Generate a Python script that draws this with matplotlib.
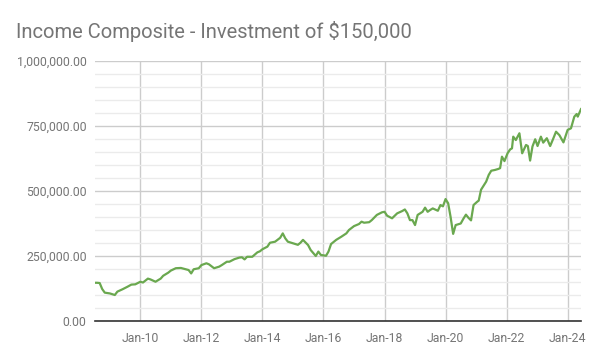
import matplotlib
matplotlib.use('Agg')
import numpy as np
import pandas as pd
import matplotlib.dates as mdates
from matplotlib import pyplot as plt
from matplotlib.ticker import MultipleLocator, FuncFormatter

dates = ['2008-07-07', '2008-08-01', '2008-09-01', '2008-10-01', '2008-11-01', '2009-01-01',
         '2009-03-01', '2009-04-01', '2009-06-01', '2009-08-01', '2009-09-15', '2009-11-01',
         '2010-01-01', '2010-02-01', '2010-04-01', '2010-05-01', '2010-07-01', '2010-09-01',
         '2010-10-01', '2010-12-01', '2011-01-01', '2011-03-01', '2011-05-01', '2011-08-01',
         '2011-09-01', '2011-10-01', '2011-12-01', '2012-01-01', '2012-03-01', '2012-04-01',
         '2012-06-01', '2012-08-01', '2012-09-01', '2012-11-01', '2012-12-01', '2013-02-01',
         '2013-04-01', '2013-05-01', '2013-06-01', '2013-07-01', '2013-09-01', '2013-11-01',
         '2013-12-01', '2014-01-01', '2014-03-01', '2014-04-01', '2014-06-01', '2014-08-01',
         '2014-09-01', '2014-10-01', '2014-11-01', '2015-01-01', '2015-03-01', '2015-04-01',
         '2015-05-01', '2015-07-01', '2015-08-01', '2015-10-01', '2015-11-01', '2015-12-01',
         '2016-02-01', '2016-03-01', '2016-04-01', '2016-06-01', '2016-08-01', '2016-10-01',
         '2016-11-01', '2017-01-01', '2017-03-01', '2017-04-01', '2017-05-01', '2017-07-01',
         '2017-08-01', '2017-10-01', '2017-12-01', '2018-01-01', '2018-02-01', '2018-04-01',
         '2018-06-01', '2018-08-01', '2018-09-01', '2018-10-01', '2018-11-01', '2018-12-01',
         '2019-01-01', '2019-02-01', '2019-04-01', '2019-05-01', '2019-06-01', '2019-07-01',
         '2019-08-01', '2019-10-01', '2019-11-01', '2019-12-01', '2020-01-01', '2020-02-01',
         '2020-03-01', '2020-04-01', '2020-05-01', '2020-07-01', '2020-08-01', '2020-09-01',
         '2020-10-01', '2020-11-01', '2020-12-01', '2021-01-15', '2021-02-01', '2021-03-01',
         '2021-05-01', '2021-06-01', '2021-07-01', '2021-08-15', '2021-09-25', '2021-10-15',
         '2021-11-06', '2021-12-06', '2022-01-12', '2022-02-12', '2022-03-06', '2022-03-21',
         '2022-04-21', '2022-06-03', '2022-07-06', '2022-08-21', '2022-09-12', '2022-10-09',
         '2022-11-06', '2022-12-09', '2023-01-06', '2023-02-15', '2023-03-15', '2023-04-27',
         '2023-06-06', '2023-07-06', '2023-08-15', '2023-09-24', '2023-11-12', '2024-01-01',
         '2024-02-10', '2024-03-21', '2024-04-18', '2024-05-01', '2024-06-09']

values = [147, 147, 146, 123, 109, 106,
          100, 113, 122, 132, 140, 141,
          151, 148, 163, 160, 151, 163,
          174, 186, 194, 203, 204, 196,
          183, 199, 203, 215, 222, 218,
          203, 209, 215, 228, 228, 238,
          244, 245, 237, 247, 247, 264,
          268, 276, 286, 301, 305, 320,
          337, 318, 305, 299, 293, 301,
          312, 292, 273, 250, 267, 254,
          251, 267, 296, 312, 324, 337,
          350, 365, 373, 382, 378, 380,
          388, 408, 418, 420, 405, 395,
          414, 423, 429, 414, 388, 388,
          369, 408, 420, 436, 420, 427,
          433, 424, 446, 441, 469, 453,
          401, 335, 369, 375, 393, 409,
          397, 387, 446, 459, 463, 505,
          536, 562, 578, 581, 585, 588,
          632, 615, 645, 660, 664, 709,
          696, 722, 645, 677, 673, 617,
          671, 699, 673, 709, 686, 703,
          673, 696, 728, 715, 687, 735,
          741, 786, 796, 786, 815]
values = [v * 1000 for v in values]

title = 'Income Composite - Investment of $150,000'
x_ticks = ['2010-01-01', '2012-01-01', '2014-01-01', '2016-01-01',
           '2018-01-01', '2020-01-01', '2022-01-01', '2024-01-01']

d = pd.to_datetime(dates)
grey = '#757575'

fig = plt.figure(figsize=(5.99, 3.61), dpi=100)
ax = fig.add_axes([95/599, 1-321/361, 486/599, 260/361])

ax.plot(d, values, color='#6aa84f', lw=1.6, solid_joinstyle='round')

ax.set_ylim(0, 1000000)
ax.set_xlim(d[0], d[-1])
ax.yaxis.set_major_locator(MultipleLocator(250000))
ax.yaxis.set_minor_locator(MultipleLocator(50000))
ax.yaxis.set_major_formatter(FuncFormatter(lambda v, p: f'{v:,.2f}'))
ax.set_xticks(pd.to_datetime(x_ticks))
ax.xaxis.set_major_formatter(mdates.DateFormatter('Jan-%y'))

ax.grid(axis='y', which='major', color='#cccccc', lw=1)
ax.grid(axis='y', which='minor', color='#ebebeb', lw=1)
ax.grid(axis='x', which='major', color='#cccccc', lw=1)
ax.set_axisbelow(True)
for s in ['top', 'right', 'left']:
    ax.spines[s].set_visible(False)
ax.spines['bottom'].set_color('#333333')
ax.spines['bottom'].set_linewidth(1.2)
ax.spines['bottom'].set_zorder(5)
ax.tick_params(which='both', length=0)
ax.tick_params(axis='y', pad=6, labelsize=8.8, labelcolor=grey)
ax.tick_params(axis='x', pad=8, labelsize=8.8, labelcolor=grey)
for lab in ax.get_xticklabels() + ax.get_yticklabels():
    lab.set_family('Roboto')

fig.text(16/599, 1-31/361, title, fontsize=14.5, color=grey, family='Roboto', va='center', ha='left')

fig.savefig('out.png', dpi=100)
